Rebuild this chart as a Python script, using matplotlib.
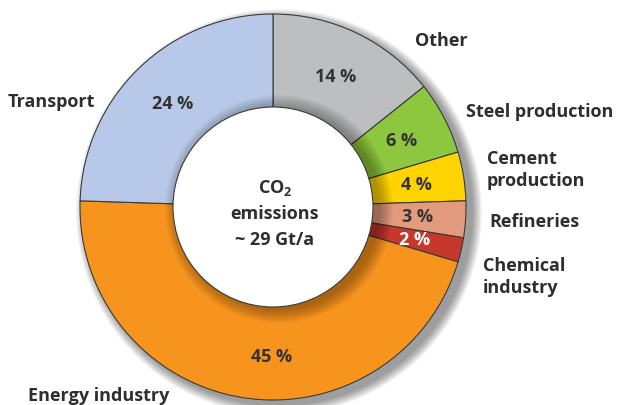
import numpy as np
import matplotlib.pyplot as plt
from matplotlib.patches import Circle

plt.rcParams['font.family'] = ['Open Sans', 'DejaVu Sans']
plt.rcParams['mathtext.fontset'] = 'custom'
plt.rcParams['mathtext.bf'] = 'Open Sans:bold'
plt.rcParams['mathtext.rm'] = 'Open Sans:bold'

# CO2 emissions by sector, clockwise from the top
sectors = ['Other', 'Steel production', 'Cement\nproduction', 'Refineries',
           'Chemical\nindustry', 'Energy industry', 'Transport']
shares = [14, 6, 4, 3, 2, 45, 24]
colors = ['#bdbec0', '#8dc63f', '#ffd400', '#e29b7d', '#c4392b', '#f7941e', '#b7c8e8']
pct_colors = ['#333333'] * 4 + ['white'] + ['#333333'] * 2
total_label = ['CO$_2$', 'emissions', '~ 29 Gt/a']

W, H = 619, 406
cx, cy = 273, H - 208
R, r_in = 193, 100
txt = '#2e2e2e'
fs = 13

fig = plt.figure(figsize=(W / 100, H / 100), dpi=100)
ax = fig.add_axes([0, 0, 1, 1])

# soft drop shadow under the ring
n = 14
for i in range(n):
    ax.add_patch(Circle((cx + 6, cy - 5), R + 10 * (1 - i / n), color='#000000',
                        alpha=0.03, lw=0, zorder=0))

wedges, _ = ax.pie(shares, colors=colors, startangle=90, counterclock=False,
                   center=(cx, cy), radius=R,
                   wedgeprops=dict(edgecolor='#3a3a3a', linewidth=0.8))
for w in wedges:
    w.set_zorder(1)

# shading the hole casts onto the ring
for i in range(n):
    ax.add_patch(Circle((cx + 6, cy - 2), r_in + 14 * (1 - i / n), color='#000000',
                        alpha=0.022, lw=0, zorder=2))
ax.add_patch(Circle((cx, cy), r_in, facecolor='white', edgecolor='#3a3a3a',
                    linewidth=0.8, zorder=3))

# percentage labels inside the ring
nudge = {5: 8.7}
for k, w in enumerate(wedges):
    ang = np.deg2rad((w.theta1 + w.theta2) / 2 + nudge.get(k, 0))
    rr = 149 if k == 5 else 145
    ax.text(cx + rr * np.cos(ang), cy + rr * np.sin(ang), f'{shares[k]} %',
            ha='center', va='center', fontsize=fs, fontweight='bold',
            color=pct_colors[k], zorder=4)

# sector names around the ring
name_pos = [(441, 41, 'center'), (466, 112, 'left'), (487, 170, 'left'),
            (489, 222, 'left'), (483, 277, 'left'), (28, 396, 'left'), (8, 102, 'left')]
for name, (x, y, ha) in zip(sectors, name_pos):
    ax.text(x, H - y, name, ha=ha, va='center', fontsize=fs, fontweight='bold',
            color=txt, linespacing=1.25, zorder=4)

for j, line in enumerate(total_label):
    ax.text(cx + 2, H - (188 + 26 * j), line, ha='center', va='center',
            fontsize=fs, fontweight='bold', color=txt, zorder=4)

ax.set_xlim(0, W)
ax.set_ylim(0, H)
ax.set_aspect('equal')
ax.axis('off')
fig.savefig('out.png', dpi=100)
